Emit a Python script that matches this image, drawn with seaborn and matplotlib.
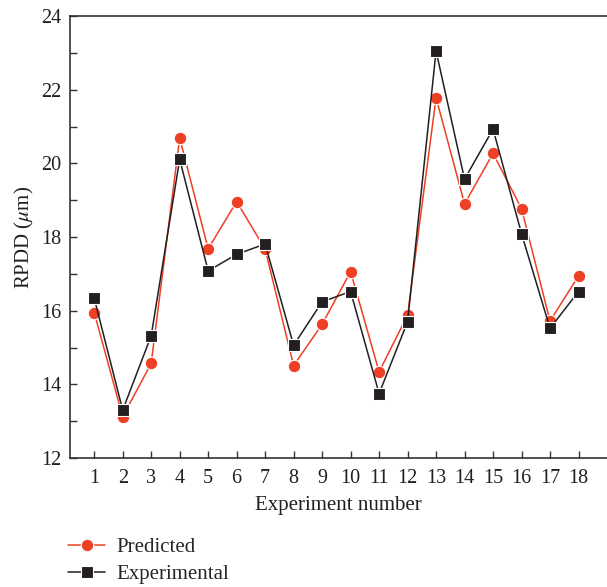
import matplotlib
matplotlib.use("Agg")
import matplotlib.pyplot as plt
import seaborn as sns
import pandas as pd
import numpy as np

experiments = list(range(1, 19))
predicted = [15.95, 13.12, 14.57, 20.69, 17.68, 18.96, 17.67, 14.51, 15.63,
             17.06, 14.34, 15.88, 21.78, 18.90, 20.27, 18.77, 15.72, 16.94]
experimental = [16.34, 13.30, 15.32, 20.11, 17.08, 17.53, 17.81, 15.06, 16.24,
                16.52, 13.75, 15.70, 23.05, 19.57, 20.93, 18.09, 15.52, 16.52]
y_ticks = [12, 14, 16, 18, 20, 22, 24]

sns.set_style("ticks")
plt.rcParams['font.family'] = ['Liberation Serif', 'DejaVu Serif']
plt.rcParams['mathtext.fontset'] = 'stix'

df_pred = pd.DataFrame({"Experiment": experiments, "RPDD": predicted, "Series": "Predicted"})
df_exp = pd.DataFrame({"Experiment": experiments, "RPDD": experimental, "Series": "Experimental"})

fig = plt.figure(figsize=(6.07, 5.87), dpi=100)
ax = fig.add_axes([70/607, 1-458/587, 1-70/607, (458-16)/587])

red = '#EE4025'
black = '#231F20'
sns.lineplot(data=df_pred, x="Experiment", y="RPDD", ax=ax, color=red, marker='o',
             markersize=9, markeredgecolor='white', markeredgewidth=0.8, linewidth=1.1,
             label="Predicted")
sns.lineplot(data=df_exp, x="Experiment", y="RPDD", ax=ax, color=black, marker='s',
             markersize=8, markeredgecolor='white', markeredgewidth=0.8, linewidth=1.1,
             label="Experimental")

ax.set_xlim(0.15, 19.0)
ax.set_ylim(12, 24)
ax.set_xticks(experiments)
ax.set_xticklabels([str(e) for e in experiments])
ax.set_yticks(y_ticks)
ax.set_yticks(range(12, 25), minor=True)
ax.tick_params(axis='both', which='both', direction='in', length=5, width=1, colors='#333333',
               labelcolor='#231F20', labelsize=14.5)
ax.tick_params(axis='x', pad=8)
ax.tick_params(axis='y', pad=6)
for s in ['left', 'bottom', 'top']:
    ax.spines[s].set_color('#333333')
    ax.spines[s].set_linewidth(1.2)
ax.spines['right'].set_visible(False)
ax.set_xlabel("Experiment number", fontsize=15, color='#231F20', labelpad=6)
ax.set_ylabel(r"RPDD ($\mu$m)", fontsize=15, color='#231F20', labelpad=4)

handles, labels = ax.get_legend_handles_labels()
ax.get_legend().remove()
fig.legend(handles, labels, loc='upper left', bbox_to_anchor=(60/607, 1-529/587),
           frameon=False, fontsize=15, handlelength=1.75, handletextpad=0.55,
           labelspacing=0.35, borderaxespad=0)

fig.savefig("out.png", dpi=100)
